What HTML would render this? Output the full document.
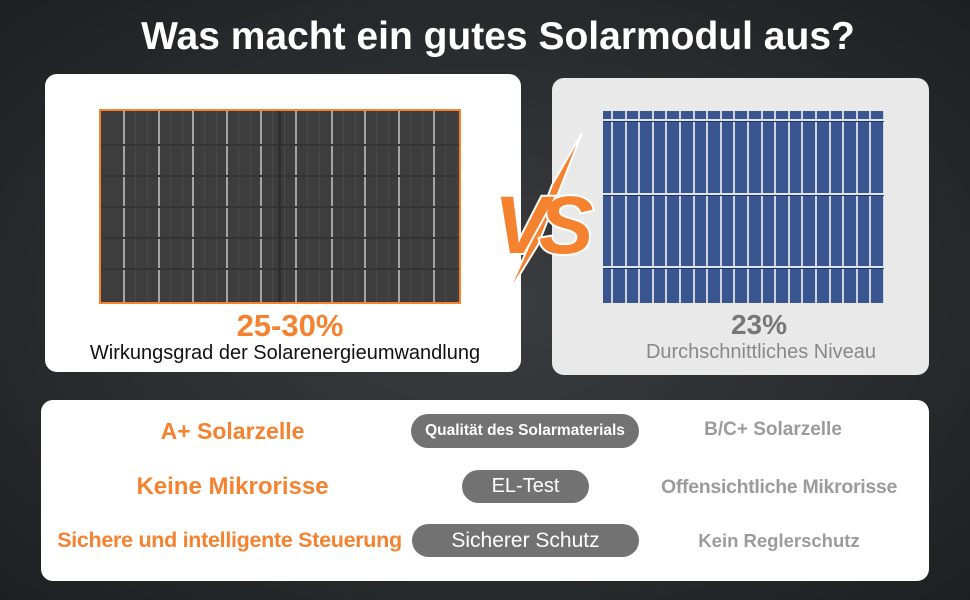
<!DOCTYPE html>
<html><head><meta charset="utf-8">
<style>
*{margin:0;padding:0;box-sizing:border-box}
body{width:970px;height:600px;overflow:hidden;font-family:"Liberation Sans",sans-serif;
background:radial-gradient(ellipse at 50% 50%,#3c3d40 0%,#2a2b2e 60%,#1e1f21 100%);position:relative}
.abs{position:absolute}
.t{position:absolute;white-space:nowrap;text-align:center}
.card{position:absolute;border-radius:12px}
.pill{position:absolute;background:#727272;border-radius:17px;color:#fff;display:flex;align-items:center;justify-content:center;white-space:nowrap}
</style></head><body>
<div class="t" style="left:0;width:996px;top:15px;font-size:39px;font-weight:bold;color:#fff">Was macht ein gutes Solarmodul aus?</div>

<div class="card" style="left:45px;top:74px;width:476px;height:298px;background:#fff"></div>
<div class="abs" id="dark" style="left:99px;top:109px;width:362px;height:195px;background:#3d3d3d;border:2px solid #f5822f;overflow:hidden"></div>
<div class="t" style="left:45px;width:490px;top:308px;font-size:31px;font-weight:bold;color:#f5822f">25-30%</div>
<div class="t" style="left:45px;width:480px;top:342px;font-size:20px;color:#111">Wirkungsgrad der Solarenergieumwandlung</div>

<div class="card" style="left:552px;top:78px;width:377px;height:297px;background:#e9e9e9"></div>
<div class="abs" id="blue" style="left:603px;top:111px;width:281px;height:192px;background:#3a5690;overflow:hidden"></div>
<div class="t" style="left:552px;width:414px;top:309px;font-size:28px;font-weight:bold;color:#777">23%</div>
<div class="t" style="left:552px;width:418px;top:341px;font-size:20px;color:#888">Durchschnittliches Niveau</div>

<svg class="abs" style="left:490px;top:125px" width="110" height="180" viewBox="0 0 110 180">
<polygon points="92,8 48,120 16,172 40,118 62,60" fill="#f5822f" stroke="#fff" stroke-width="2"/>
<text x="4" y="128" font-family="Liberation Sans,sans-serif" font-size="82" font-weight="900" font-style="italic" fill="#f5822f" stroke="#fff" stroke-width="4" paint-order="stroke" letter-spacing="-10">VS</text>
</svg>

<div class="card" style="left:41px;top:400px;width:888px;height:181px;background:#fff"></div>
<div class="t" style="left:60px;width:345px;top:418px;font-size:23px;font-weight:bold;color:#f5822f">A+ Solarzelle</div>
<div class="t" style="left:60px;width:345px;top:473px;font-size:24px;font-weight:bold;color:#f5822f">Keine Mikrorisse</div>
<div class="t" style="left:52px;width:355px;top:528px;font-size:21.5px;font-weight:bold;color:#f5822f;letter-spacing:-0.3px">Sichere und intelligente Steuerung</div>

<div class="pill" style="left:411px;top:414px;width:228px;height:34px;font-size:15.5px;font-weight:bold">Qualität des Solarmaterials</div>
<div class="pill" style="left:462px;top:470px;width:127px;height:33px;font-size:20px">EL-Test</div>
<div class="pill" style="left:412px;top:524px;width:227px;height:33px;font-size:21px">Sicherer Schutz</div>

<div class="t" style="left:653px;width:240px;top:419px;font-size:19px;font-weight:bold;color:#9b9b9b">B/C+ Solarzelle</div>
<div class="t" style="left:655px;width:248px;top:476px;font-size:19.5px;font-weight:bold;color:#9b9b9b;letter-spacing:-0.3px">Offensichtliche Mikrorisse</div>
<div class="t" style="left:659px;width:240px;top:530px;font-size:18.5px;font-weight:bold;color:#9b9b9b">Kein Reglerschutz</div>

<script>
var d=document.getElementById('dark');
var bus=[22,57,91,125,159,194,230,263,297,332];
bus.forEach(function(x){var e=document.createElement('div');


e.style.cssText='position:absolute;top:0;bottom:0;left:'+x+'px;width:2px;background:#a5a5a5';d.appendChild(e);
[12,24].forEach(function(o){var f=document.createElement('div');


f.style.cssText='position:absolute;top:0;bottom:0;left:'+(x+o)+'px;width:1px;background:#4a4a4a';d.appendChild(f);});});
[33,64,95,126,157].forEach(function(y){var e=document.createElement('div');


e.style.cssText='position:absolute;left:0;right:0;top:'+y+'px;height:2px;background:#343434';d.appendChild(e);});
var c=document.createElement('div');


c.style.cssText='position:absolute;top:0;bottom:0;left:177px;width:3px;background:#2e2e2e';d.appendChild(c);
var b=document.getElementById('blue');
for(var x=8;x<281;x+=13.6){var e=document.createElement('div');


e.style.cssText='position:absolute;top:0;bottom:0;left:'+x+'px;width:2px;background:#cfd4dc';b.appendChild(e);}
[8,82,155].forEach(function(y){var e=document.createElement('div');


e.style.cssText='position:absolute;left:0;right:0;top:'+y+'px;height:3px;background:#dfe3ea;border-bottom:1px solid #1d3466';b.appendChild(e);});
</script>
</body></html>
